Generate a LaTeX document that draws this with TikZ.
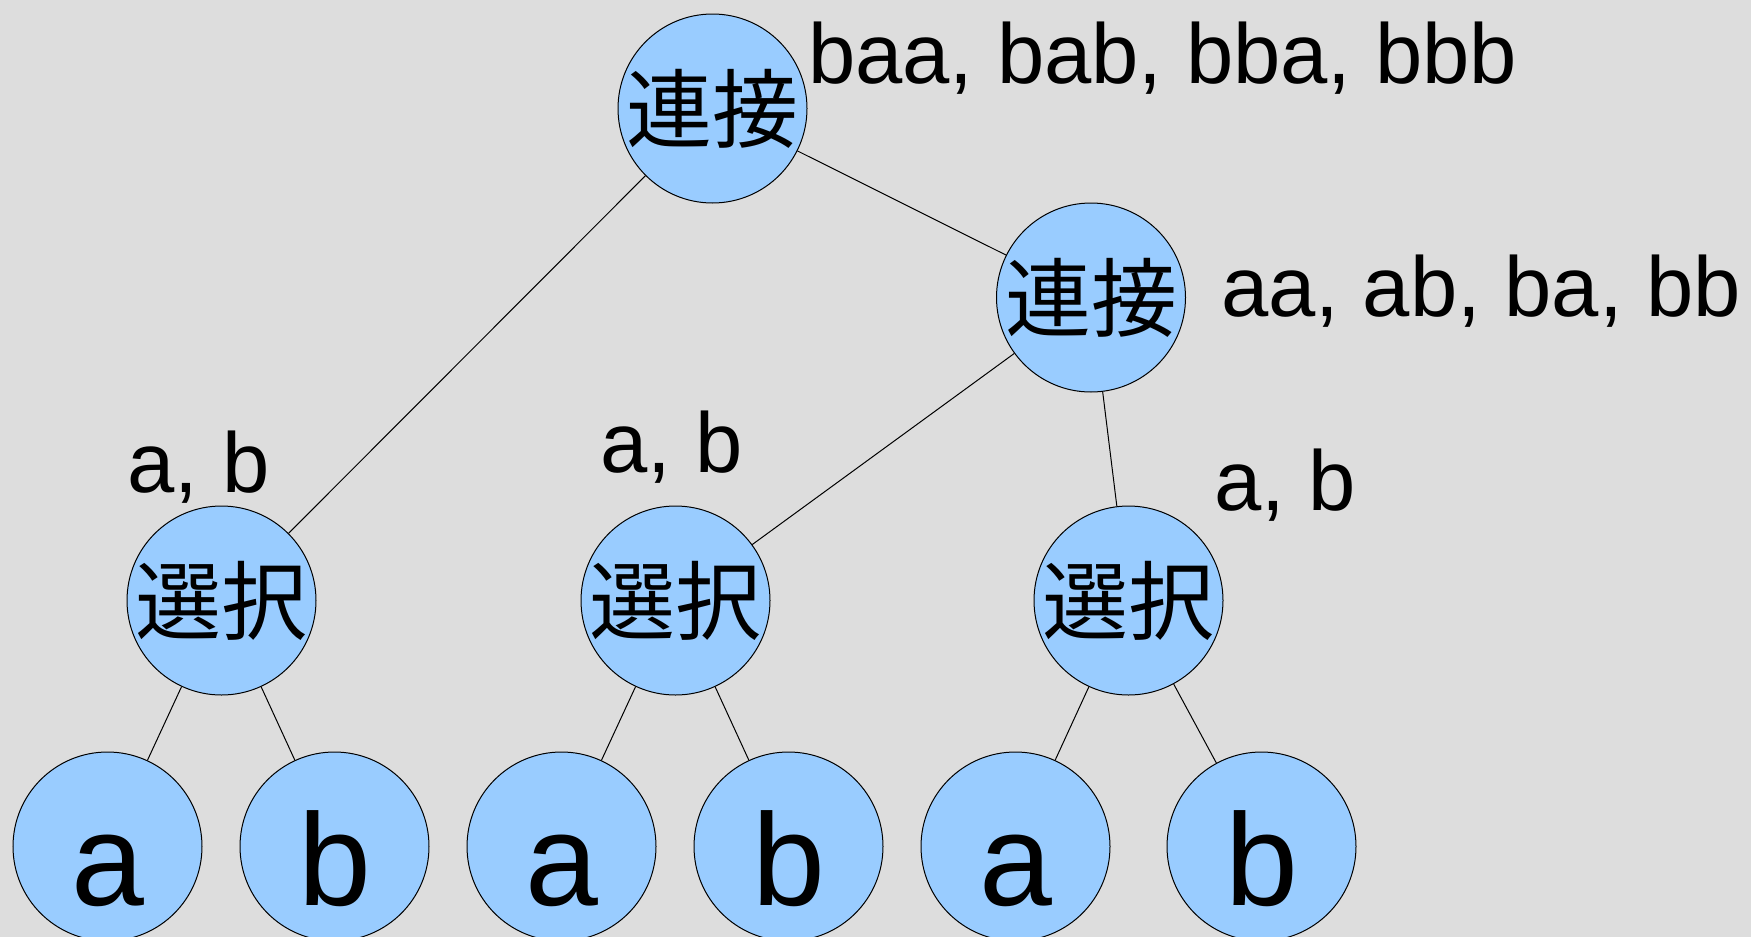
\documentclass[tikz,border=0pt]{standalone}
\usepackage{fontspec}
\setmainfont{Liberation Sans}
\newfontfamily\cjk{Noto Sans CJK JP}
\definecolor{nodeblue}{RGB}{153,204,255}
\definecolor{bgc}{RGB}{221,221,221}
\begin{document}
\begin{tikzpicture}[x=1pt,y=-1pt,
  nd/.style={circle,draw=black,line width=1pt,fill=nodeblue,minimum size=189pt,inner sep=0pt},
  op/.style={nd,font=\cjk\fontsize{86}{86}\selectfont},
  leaf/.style={nd,font=\fontsize{131}{131}\selectfont,text height=117pt,text depth=0pt},
  lbl/.style={anchor=base,inner sep=0pt,font=\fontsize{85}{85}\selectfont},
  edge/.style={line width=1pt,draw=black}]
\useasboundingbox (0,0) rectangle (1751,937);
\fill[bgc] (0,0) rectangle (1751,937);
\clip (0,0) rectangle (1751,937);
% operator nodes
\node[op] (top) at (712.5,108.5) {連接};
\node[op] (c2) at (1091,297.5) {連接};
\node[op] (s1) at (221.5,600.5) {選択};
\node[op] (s2) at (675.5,600.5) {選択};
\node[op] (s3) at (1128.5,600.5) {選択};
% leaves
\node[leaf] (a1) at (107.5,846.5) {a};
\node[leaf] (b1) at (334.5,846.5) {b};
\node[leaf] (a2) at (561.5,846.5) {a};
\node[leaf] (b2) at (788.5,846.5) {b};
\node[leaf] (a3) at (1015.5,846.5) {a};
\node[leaf] (b3) at (1261.5,846.5) {b};
% edges
\draw[edge] (top) -- (s1);
\draw[edge] (top) -- (c2);
\draw[edge] (c2) -- (s2);
\draw[edge] (c2) -- (s3);
\draw[edge] (s1) -- (a1);
\draw[edge] (s1) -- (b1);
\draw[edge] (s2) -- (a2);
\draw[edge] (s2) -- (b2);
\draw[edge] (s3) -- (a3);
\draw[edge] (s3) -- (b3);
% labels
\node[lbl,anchor=base west] (ltop) at (808,83) {baa, bab, bba, bbb};
\node[lbl,anchor=base west] (lc2) at (1221,316) {aa, ab, ba, bb};
\node[lbl] (ls1) at (198.5,492) {a, b};
\node[lbl] (ls2) at (671.5,472) {a, b};
\node[lbl] (ls3) at (1285,510) {a, b};
\end{tikzpicture}
\end{document}
